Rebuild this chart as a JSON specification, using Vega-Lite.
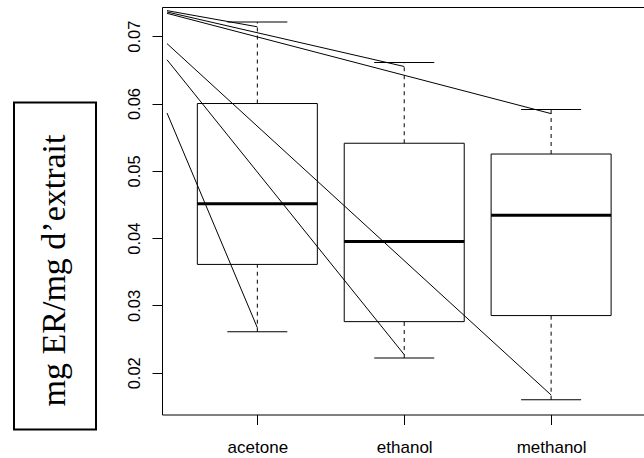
{
  "$schema": "https://vega.github.io/schema/vega-lite/v6.json",
  "padding": {"left": 13, "top": 7, "right": 0, "bottom": 0},
  "bounds": "flush",
  "spacing": 66,
  "config": {
    "view": {"stroke": null},
    "axis": {
      "domainColor": "black",
      "tickColor": "black",
      "labelColor": "black",
      "labelFont": "Liberation Sans",
      "grid": false,
      "tickSize": 10,
      "domainWidth": 1,
      "tickWidth": 1
    }
  },
  "datasets": {
    "stats": [
      {"solvent": "acetone", "idx": 1, "lo": 0.0261, "q1": 0.0361, "med": 0.0451, "q3": 0.0600, "hi": 0.0721},
      {"solvent": "ethanol", "idx": 2, "lo": 0.0222, "q1": 0.0276, "med": 0.0395, "q3": 0.0541, "hi": 0.0661},
      {"solvent": "methanol", "idx": 3, "lo": 0.0160, "q1": 0.0285, "med": 0.0434, "q3": 0.0525, "hi": 0.0591}
    ],
    "pointers": [
      {"x0": 0.385, "y0": 0.0738, "x1": 1, "y1": 0.0714},
      {"x0": 0.385, "y0": 0.0736, "x1": 2, "y1": 0.0655},
      {"x0": 0.385, "y0": 0.0734, "x1": 3, "y1": 0.0585},
      {"x0": 0.385, "y0": 0.0689, "x1": 3, "y1": 0.0167},
      {"x0": 0.385, "y0": 0.0665, "x1": 2, "y1": 0.0227},
      {"x0": 0.385, "y0": 0.0586, "x1": 1, "y1": 0.0267}
    ],
    "label": [{"text": "mg ER/mg d’extrait"}]
  },
  "hconcat": [
    {
      "width": 82,
      "height": 407.5,
      "data": {"name": "label"},
      "layer": [
        {
          "mark": {"type": "rect", "fill": "white", "stroke": "black", "strokeWidth": 2},
          "encoding": {
            "y": {"datum": 0.06015, "type": "quantitative", "scale": {"domain": [0.013804, 0.07434], "nice": false, "zero": false}, "axis": null},
            "y2": {"datum": 0.01156}
          }
        },
        {
          "mark": {"type": "text", "angle": 270, "font": "Liberation Serif", "fontSize": 34, "baseline": "middle", "align": "center", "color": "black"},
          "encoding": {
            "text": {"field": "text"},
            "y": {"datum": 0.0352, "type": "quantitative"}
          }
        }
      ]
    },
    {
      "width": 482,
      "height": 407.5,
      "layer": [
        {
          "data": {"name": "stats"},
          "mark": {"type": "rule", "strokeDash": [4, 4], "color": "black", "strokeWidth": 1},
          "encoding": {
            "x": {
              "field": "idx", "type": "quantitative",
              "scale": {"domain": [0.385, 3.5983], "nice": false, "zero": false},
              "axis": {
                "values": [1, 2, 3],
                "labelExpr": "datum.value == 1 ? 'acetone' : datum.value == 2 ? 'ethanol' : 'methanol'",
                "labelFontSize": 17,
                "labelBaseline": "alphabetic",
                "labelPadding": 28,
                "title": null
              }
            },
            "y": {
              "field": "q3", "type": "quantitative", "title": null,
              "scale": {"domain": [0.013804, 0.07434], "nice": false, "zero": false},
              "axis": {
                "values": [0.02, 0.03, 0.04, 0.05, 0.06, 0.07],
                "format": ".2f",
                "labelAngle": 270,
                "labelAlign": "center",
                "labelBaseline": "alphabetic",
                "labelFontSize": 16.5,
                "labelPadding": 13
              }
            },
            "y2": {"field": "hi"}
          }
        },
        {
          "data": {"name": "stats"},
          "mark": {"type": "rule", "strokeDash": [4, 4], "color": "black", "strokeWidth": 1},
          "encoding": {
            "x": {"field": "idx", "type": "quantitative", "axis": null},
            "y": {"field": "lo", "type": "quantitative", "title": null},
            "y2": {"field": "q1"}
          }
        },
        {
          "data": {"name": "stats"},
          "mark": {"type": "bar", "size": 120, "fill": "white", "stroke": "black", "strokeWidth": 1},
          "encoding": {
            "x": {"field": "idx", "type": "quantitative", "axis": null},
            "y": {"field": "q1", "type": "quantitative", "title": null},
            "y2": {"field": "q3"}
          }
        },
        {
          "data": {"name": "stats"},
          "mark": {"type": "tick", "orient": "horizontal", "size": 120, "thickness": 3, "color": "black", "opacity": 1},
          "encoding": {
            "x": {"field": "idx", "type": "quantitative", "axis": null},
            "y": {"field": "med", "type": "quantitative", "title": null}
          }
        },
        {
          "data": {"name": "stats"},
          "mark": {"type": "tick", "orient": "horizontal", "size": 60, "thickness": 1, "color": "black", "opacity": 1},
          "encoding": {
            "x": {"field": "idx", "type": "quantitative", "axis": null},
            "y": {"field": "hi", "type": "quantitative", "title": null}
          }
        },
        {
          "data": {"name": "stats"},
          "mark": {"type": "tick", "orient": "horizontal", "size": 60, "thickness": 1, "color": "black", "opacity": 1},
          "encoding": {
            "x": {"field": "idx", "type": "quantitative", "axis": null},
            "y": {"field": "lo", "type": "quantitative", "title": null}
          }
        },
        {
          "data": {"name": "pointers"},
          "mark": {"type": "rule", "color": "black", "strokeWidth": 1},
          "encoding": {
            "x": {"field": "x0", "type": "quantitative", "axis": {"orient": "top", "ticks": false, "labels": false, "title": null}},
            "y": {"field": "y0", "type": "quantitative", "title": null},
            "x2": {"field": "x1"},
            "y2": {"field": "y1"}
          }
        }
      ],
      "resolve": {"axis": {"x": "independent"}}
    }
  ]
}
